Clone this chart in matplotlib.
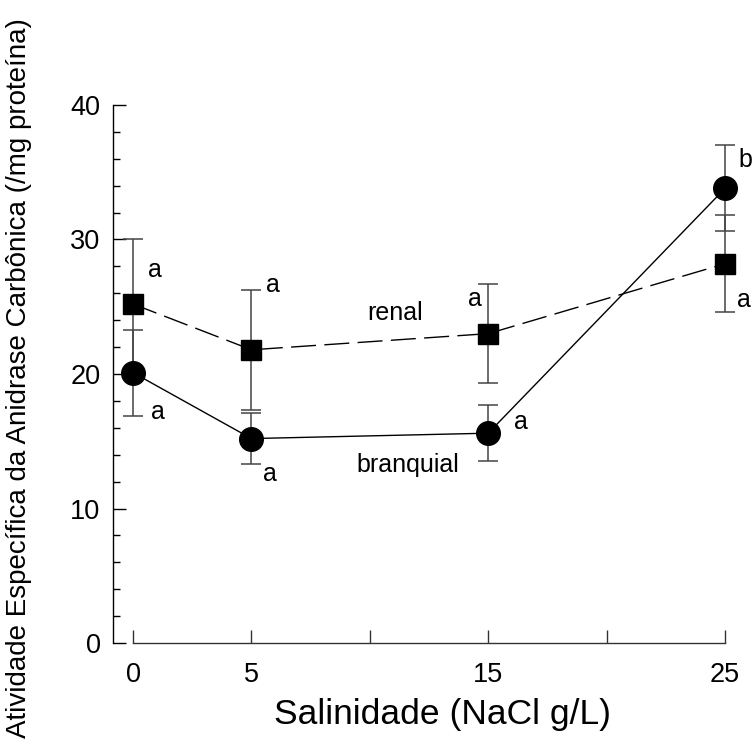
import matplotlib
matplotlib.use("Agg")
import matplotlib.pyplot as plt
from matplotlib.ticker import MultipleLocator, FixedLocator

plt.rcParams['font.family'] = ['Liberation Sans', 'DejaVu Sans']

salinity = [0, 5, 15, 25]
branquial = [20.1, 15.2, 15.6, 33.8]
branquial_err = [3.2, 1.9, 2.1, 3.2]
renal = [25.2, 21.8, 23.0, 28.2]
renal_err = [4.8, 4.45, 3.7, 3.6]

letters = [
    (0.93, 27.7, "a"), (1.06, 17.2, "a"),
    (5.9, 26.6, "a"), (5.8, 12.6, "a"),
    (14.45, 25.6, "a"), (16.4, 16.4, "a"),
    (25.85, 35.9, "b"), (25.8, 25.5, "a"),
]
series_labels = [(11.06, 24.5, "renal"), (11.6, 13.2, "branquial")]

fig = plt.figure(figsize=(7.55, 7.55), dpi=100)
ax = fig.add_axes([0.1497, 0.1483, 0.842, 0.7305])
ax.set_xlim(-0.845, 26)
ax.set_ylim(0, 41)

errc = '#444444'
ax.errorbar(salinity, renal, yerr=renal_err, fmt='none', ecolor=errc,
            elinewidth=1.1, capsize=7, capthick=1.1, zorder=2, clip_on=False)
ax.errorbar(salinity, branquial, yerr=branquial_err, fmt='none', ecolor=errc,
            elinewidth=1.1, capsize=7, capthick=1.1, zorder=2, clip_on=False)
ax.plot(salinity, renal, color='black', lw=1.0, linestyle=(0, (18, 6)),
        marker='s', markersize=14, zorder=3, clip_on=False)
ax.plot(salinity, branquial, color='black', lw=1.0, linestyle='-',
        marker='o', markersize=17, zorder=3, clip_on=False)

for x, y, t in letters:
    ax.text(x, y, t, fontsize=18, ha='center', va='center')
for x, y, t in series_labels:
    ax.text(x, y, t, fontsize=18, ha='center', va='center')

for s in ['top', 'right']:
    ax.spines[s].set_visible(False)
ax.spines['left'].set_bounds(0, 40)
ax.spines['bottom'].set_bounds(0, 25)
ax.spines['left'].set_linewidth(1.0)
ax.spines['bottom'].set_linewidth(1.0)
ax.spines['bottom'].set_color('#333333')

ax.yaxis.set_major_locator(MultipleLocator(10))
ax.yaxis.set_minor_locator(MultipleLocator(2))
ax.xaxis.set_major_locator(FixedLocator(salinity))
ax.xaxis.set_minor_locator(FixedLocator([10, 20]))

ax.tick_params(axis='y', which='major', direction='in', length=9.5, width=1.0,
               labelsize=19.5, pad=9)
ax.tick_params(axis='y', which='minor', direction='in', length=5, width=1.0)
ax.tick_params(axis='x', which='both', direction='in', length=9.5, width=1.0,
               color='#333333', labelsize=19.5, pad=14)

ax.set_xlabel("Salinidade (NaCl g/L)", fontsize=25.5)
ax.xaxis.set_label_coords(0.5175, -0.100)
ax.set_ylabel("Atividade Específica da Anidrase Carbônica (/mg proteína)",
              fontsize=20)
ax.yaxis.set_label_coords(-0.128, 0.48)

fig.savefig("out.png", dpi=100)
